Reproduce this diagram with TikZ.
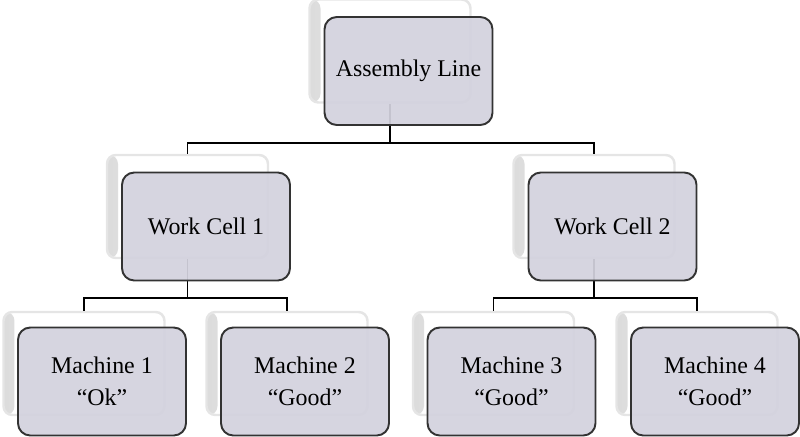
\documentclass[tikz,border=0pt]{standalone}
\usepackage{fontspec}
\setmainfont{Liberation Serif}
\usepackage{tikz}

\tikzset{
  backbox/.style={rectangle,rounded corners=5pt,draw=gray!20,line width=1.4pt,fill=white,
    minimum width=3.22cm,minimum height=2.06cm,
    path picture={\shade[left color=gray!28,right color=white]
      (path picture bounding box.south west) rectangle ([xshift=0.22cm]path picture bounding box.north west);}},
  frontbox/.style={rectangle,rounded corners=7pt,draw=black!80,line width=1.1pt,
    fill=lavgray,fill opacity=0.93,text opacity=1,minimum width=3.36cm,minimum height=2.16cm,
    align=center,font=\fontsize{13.6}{18}\selectfont},
  link/.style={draw=black,line width=0.9pt}
}
\definecolor{lavgray}{RGB}{211,210,222}

\begin{document}
\begin{tikzpicture}
                \useasboundingbox (0,0) rectangle (16,-8.72);
                % back boxes
                \node[backbox] (ALb) at (7.8,-1.02) {};
                \node[backbox] (W1b) at (3.75,-4.13) {};
                \node[backbox] (W2b) at (11.88,-4.13) {};
                \node[backbox] (M1b) at (1.68,-7.27) {};
                \node[backbox] (M2b) at (5.74,-7.27) {};
                \node[backbox] (M3b) at (9.87,-7.27) {};
                \node[backbox] (M4b) at (13.94,-7.27) {};
                % tree lines
                \draw[link] (ALb.south) -- ++(0,-0.78) coordinate (J) -| (W1b.north);
                \draw[link] (J) -| (W2b.north);
                \draw[link] (W1b.south) -- ++(0,-0.77) coordinate (K) -| (M1b.north);
                \draw[link] (K) -| (M2b.north);
                \draw[link] (W2b.south) -- ++(0,-0.77) coordinate (L) -| (M3b.north);
                \draw[link] (L) -| (M4b.north);
                % front boxes
                \node[frontbox] (AL) at (8.17,-1.42) {Assembly Line};
                \node[frontbox] (W1) at (4.12,-4.53) {Work Cell 1};
                \node[frontbox] (W2) at (12.25,-4.53) {Work Cell 2};
                \node[frontbox] (M1) at (2.04,-7.63) {Machine 1\\``Ok''};
                \node[frontbox] (M2) at (6.1,-7.63) {Machine 2\\``Good''};
                \node[frontbox] (M3) at (10.23,-7.63) {Machine 3\\``Good''};
                \node[frontbox] (M4) at (14.3,-7.63) {Machine 4\\``Good''};
            \end{tikzpicture}
\end{document}
